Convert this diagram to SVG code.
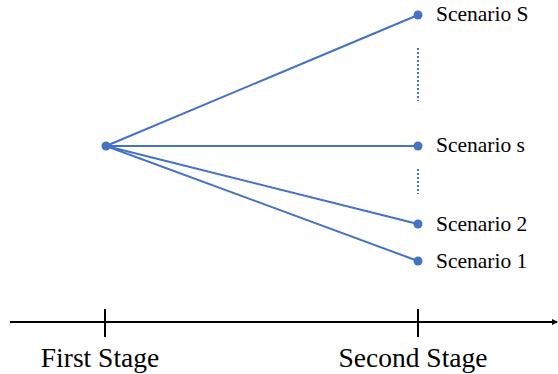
<svg xmlns="http://www.w3.org/2000/svg" width="558" height="374" viewBox="0 0 558 374">
  <style>
    .edge { stroke: #4472C4; stroke-width: 2; fill: none; }
    .dots { stroke: #4472C4; stroke-width: 2; stroke-dasharray: 2 2; fill: none; }
    .node { fill: #4472C4; }
    .lbl { font-size: 21.5px; fill: #000; }
    .axis { stroke: #000; stroke-width: 2; fill: none; }
    .stage { font-size: 27.5px; fill: #000; text-anchor: middle; }
  </style>
  <defs>
    <marker id="arrow" markerWidth="6" markerHeight="6" refX="5" refY="3" orient="auto" markerUnits="userSpaceOnUse">
      <path d="M0,0 L6,3 L0,6 Z" fill="#000"/>
    </marker>
  </defs>

  <!-- branches from the first-stage decision to each scenario -->
  <g id="connectors">
    <line class="edge" x1="106" y1="146" x2="418" y2="15"/>
    <line class="edge" x1="106" y1="146" x2="418" y2="146"/>
    <line class="edge" x1="106" y1="146" x2="418" y2="224"/>
    <line class="edge" x1="106" y1="146" x2="418" y2="261"/>
    <line class="dots" x1="418" y1="48" x2="418" y2="101"/>
    <line class="dots" x1="418" y1="169" x2="418" y2="194"/>
  </g>

  <g font-family="'Liberation Serif', 'Times New Roman', serif">
    <g id="root"><circle class="node" cx="106" cy="146" r="4.5"/></g>
    <g id="scenario-S">
      <circle class="node" cx="418" cy="15" r="4.5"/>
      <text class="lbl" x="436" y="21">Scenario S</text>
    </g>
    <g id="scenario-s">
      <circle class="node" cx="418" cy="146" r="4.5"/>
      <text class="lbl" x="436" y="152">Scenario s</text>
    </g>
    <g id="scenario-2">
      <circle class="node" cx="418" cy="224" r="4.5"/>
      <text class="lbl" x="436" y="231">Scenario 2</text>
    </g>
    <g id="scenario-1">
      <circle class="node" cx="418" cy="261" r="4.5"/>
      <text class="lbl" x="436" y="268">Scenario 1</text>
    </g>

    <!-- time axis -->
    <g id="axis">
      <line class="axis" x1="10" y1="322" x2="557" y2="322" marker-end="url(#arrow)"/>
      <line class="axis" x1="105" y1="309" x2="105" y2="337"/>
      <line class="axis" x1="418" y1="309" x2="418" y2="337"/>
      <text class="stage" x="100" y="367">First Stage</text>
      <text class="stage" x="413" y="367">Second Stage</text>
    </g>
  </g>
</svg>
